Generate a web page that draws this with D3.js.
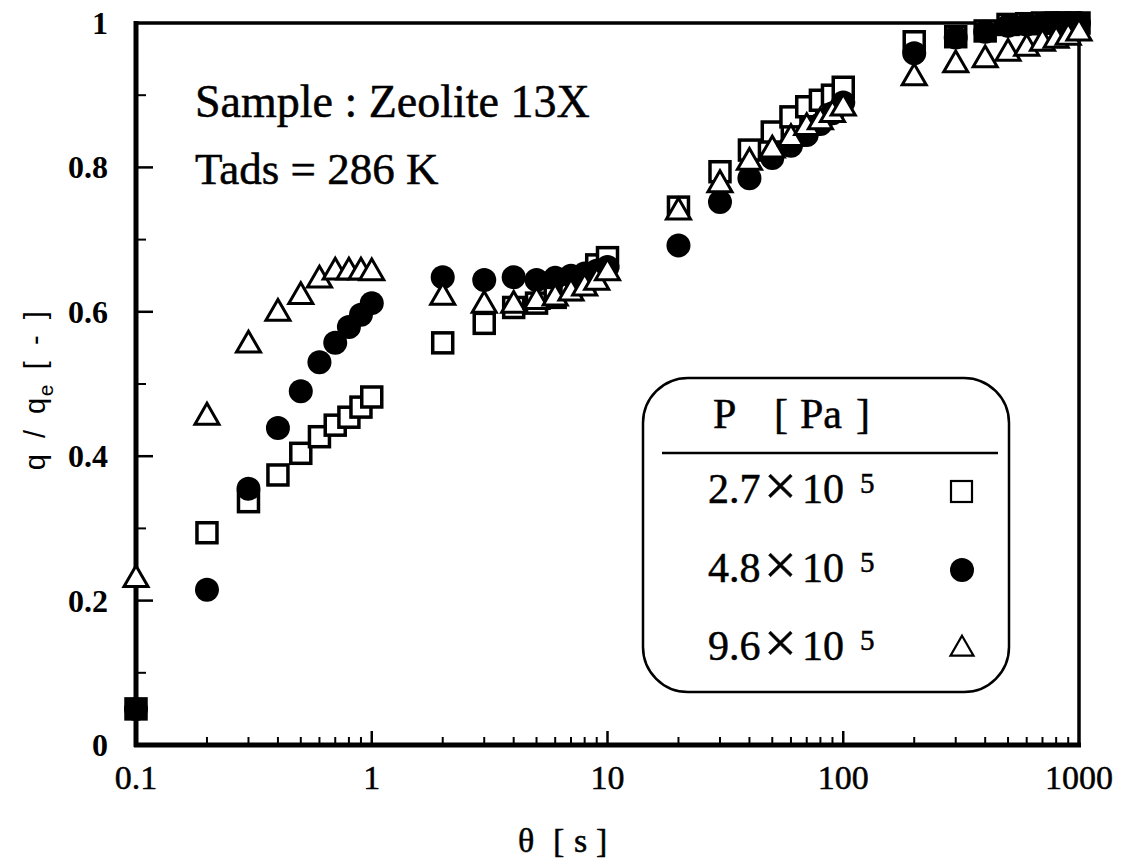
<!DOCTYPE html>
<html>
<head>
<meta charset="utf-8">
<script src="https://cdn.jsdelivr.net/npm/d3@7"></script>
<style>
  html, body { margin: 0; padding: 0; background: #fff; }
  svg { display: block; }
  text { fill: #000; }
  .heavy { stroke: #000; stroke-width: 0.5px; }
</style>
</head>
<body>
<svg id="chart" width="1127" height="865"></svg>
<script>
// Adsorption uptake of zeolite 13X at 286 K for three pressures
const times = [0.1, 0.2, 0.3, 0.4, 0.5, 0.6, 0.7, 0.8, 0.9, 1,
               2, 3, 4, 5, 6, 7, 8, 9, 10,
               20, 30, 40, 50, 60, 70, 80, 90, 100,
               200, 300, 400, 500, 600, 700, 800, 900, 1000];

const uptakeP27 = [0.050, 0.294, 0.337, 0.374, 0.404, 0.427, 0.443, 0.454, 0.468, 0.482,
                   0.557, 0.584, 0.606, 0.612, 0.620, 0.631, 0.643, 0.665, 0.675,
                   0.745, 0.794, 0.824, 0.849, 0.870, 0.884, 0.893, 0.900, 0.911,
                   0.974, 0.981, 0.989, 0.998, 0.999, 1.000, 1.000, 1.000, 1.000];

const uptakeP48 = [0.050, 0.215, 0.355, 0.439, 0.490, 0.530, 0.557, 0.579, 0.596, 0.612,
                   0.648, 0.644, 0.648, 0.644, 0.647, 0.650, 0.653, 0.657, 0.662,
                   0.692, 0.752, 0.785, 0.813, 0.830, 0.845, 0.860, 0.875, 0.890,
                   0.958, 0.980, 0.988, 0.996, 0.998, 0.999, 1.000, 1.000, 1.000];

const uptakeP96 = [0.229, 0.454, 0.554, 0.598, 0.621, 0.644, 0.655, 0.655, 0.655, 0.654,
                   0.620, 0.609, 0.609, 0.614, 0.619, 0.626, 0.633, 0.641, 0.654,
                   0.738, 0.776, 0.807, 0.824, 0.840, 0.855, 0.863, 0.873, 0.882,
                   0.924, 0.942, 0.949, 0.958, 0.965, 0.972, 0.976, 0.980, 0.986];

const pressureMantissa = ["2.7", "4.8", "9.6"];
const pressureExponent = ["5", "5", "5"];
const xTickValues = [0.1, 1, 10, 100, 1000];
const xTickLabels = ["0.1", "1", "10", "100", "1000"];
const yTickValues = [0, 0.2, 0.4, 0.6, 0.8, 1];
const yTickLabels = ["0", "0.2", "0.4", "0.6", "0.8", "1"];

const serif = "'Liberation Serif', 'Times New Roman', serif";
const sans = "'Liberation Sans', Arial, sans-serif";

const svg = d3.select("#chart");
const plotL = 136, plotR = 1079, plotT = 23, plotB = 745;

const x = d3.scaleLog().domain([0.1, 1000]).range([plotL, plotR]);
const y = d3.scaleLinear().domain([0, 1]).range([plotB, plotT]);

// minor ticks
const xMinor = [];
[0.1, 1, 10, 100].forEach(d => { for (let k = 2; k <= 9; k++) xMinor.push(d * k); });
const yMinor = d3.range(0.1, 1, 0.2);

const axisG = svg.append("g");

// x axis ticks (pointing inward)
axisG.selectAll("line.xmaj").data(xTickValues.slice(1, -1)).join("line")
  .attr("x1", d => x(d)).attr("x2", d => x(d))
  .attr("y1", plotB).attr("y2", plotB - 14)
  .attr("stroke", "#000").attr("stroke-width", 2.5);
axisG.selectAll("line.xmin").data(xMinor).join("line")
  .attr("x1", d => x(d)).attr("x2", d => x(d))
  .attr("y1", plotB).attr("y2", plotB - 8)
  .attr("stroke", "#000").attr("stroke-width", 2);

// y axis ticks
axisG.selectAll("line.ymaj").data(yTickValues.slice(1, -1)).join("line")
  .attr("x1", plotL).attr("x2", plotL + 17)
  .attr("y1", d => y(d)).attr("y2", d => y(d))
  .attr("stroke", "#000").attr("stroke-width", 2.5);
axisG.selectAll("line.ymin").data(yMinor).join("line")
  .attr("x1", plotL).attr("x2", plotL + 10)
  .attr("y1", d => y(d)).attr("y2", d => y(d))
  .attr("stroke", "#000").attr("stroke-width", 2);

// frame
svg.append("rect")
  .attr("x", plotL).attr("y", plotT)
  .attr("width", plotR - plotL).attr("height", plotB - plotT)
  .attr("fill", "none").attr("stroke", "#000").attr("stroke-width", 3.5);
svg.append("line").attr("x1", plotL).attr("x2", plotL).attr("y1", plotT - 2).attr("y2", plotB + 2)
  .attr("stroke", "#000").attr("stroke-width", 5);
svg.append("line").attr("x1", plotL - 2).attr("x2", plotR + 2).attr("y1", plotB).attr("y2", plotB)
  .attr("stroke", "#000").attr("stroke-width", 5);

// tick labels
svg.selectAll("text.xl").data(xTickValues).join("text")
  .attr("class", "heavy")
  .attr("x", d => x(d)).attr("y", 789)
  .attr("text-anchor", "middle")
  .style("font-family", serif).style("font-size", "34px")
  .text((d, i) => xTickLabels[i]);

svg.selectAll("text.yl").data(yTickValues).join("text")
  .attr("x", 108).attr("y", d => y(d) + 11)
  .attr("text-anchor", "end")
  .style("font-family", serif).style("font-size", "32px").style("font-weight", "bold")
  .text((d, i) => yTickLabels[i]);

// axis titles
const xt = svg.append("text").attr("class", "heavy").attr("y", 852)
  .style("font-family", serif).style("font-size", "34px");
xt.append("tspan").attr("x", 518).text("θ");
xt.append("tspan").attr("x", 553).text("[");
xt.append("tspan").attr("x", 574).text("s");
xt.append("tspan").attr("x", 596).text("]");

const yt = svg.append("text")
  .attr("transform", "translate(45,390) rotate(-90)")
  .attr("text-anchor", "middle")
  .style("font-family", sans).style("font-size", "29px")
  .style("letter-spacing", "1.5px").style("word-spacing", "5px");
yt.append("tspan").text("q / q");
yt.append("tspan").attr("dy", 8).style("font-size", "21px").text("e");
yt.append("tspan").attr("dy", -8).attr("dx", 14).text("[ - ]");

// annotation
svg.append("text").attr("class", "heavy").attr("x", 195).attr("y", 117)
  .style("font-family", serif).style("font-size", "46px")
  .text("Sample : Zeolite 13X");
svg.append("text").attr("class", "heavy").attr("x", 195).attr("y", 184)
  .style("font-family", serif).style("font-size", "45px")
  .text("Tads = 286 K");

// marker shapes
function trianglePath(w) {
  const h = w * 0.866;
  return `M0,${-2 * h / 3}L${w / 2},${h / 3}L${-w / 2},${h / 3}Z`;
}

const rows = times.map((t, i) => ({ t, a: uptakeP27[i], b: uptakeP48[i], c: uptakeP96[i] }));
const marks = svg.append("g");

marks.selectAll("rect.sq").data(rows).join("rect")
  .attr("x", d => x(d.t) - 10).attr("y", d => y(d.a) - 10)
  .attr("width", 20).attr("height", 20)
  .attr("fill", "#fff").attr("stroke", "#000").attr("stroke-width", 3.5);

marks.selectAll("circle.ci").data(rows).join("circle")
  .attr("cx", d => x(d.t)).attr("cy", d => y(d.b)).attr("r", 12)
  .attr("fill", "#000");

marks.selectAll("path.tr").data(rows).join("path")
  .attr("transform", d => `translate(${x(d.t)},${y(d.c)})`)
  .attr("d", trianglePath(24))
  .attr("fill", "#fff").attr("stroke", "#000").attr("stroke-width", 3)
  .attr("stroke-linejoin", "miter");

// legend
const lg = svg.append("g");
lg.append("rect").attr("x", 643).attr("y", 378).attr("width", 366).attr("height", 314)
  .attr("rx", 45).attr("ry", 45)
  .attr("fill", "#fff").attr("stroke", "#000").attr("stroke-width", 2.5);
const head = lg.append("text").attr("class", "heavy").attr("y", 428)
  .style("font-family", serif).style("font-size", "42px");
head.append("tspan").attr("x", 713).text("P");
head.append("tspan").attr("x", 774).text("[");
head.append("tspan").attr("x", 800).text("Pa");
head.append("tspan").attr("x", 856).text("]");
lg.append("line").attr("x1", 662).attr("x2", 998).attr("y1", 453).attr("y2", 453)
  .attr("stroke", "#000").attr("stroke-width", 2.5);

const rowY = [503, 582, 660];
pressureMantissa.forEach((m, i) => {
  const t = lg.append("text").attr("class", "heavy").attr("y", rowY[i])
    .style("font-family", serif).style("font-size", "42px");
  t.append("tspan").attr("x", 708).text(m);
  t.append("tspan").attr("x", 764).attr("dy", 2).style("font-size", "58px").text("×");
  t.append("tspan").attr("x", 802).attr("dy", -2).text("10");
  t.append("tspan").attr("x", 860).attr("dy", -10).style("font-size", "29px").text(pressureExponent[i]);
});
lg.append("rect").attr("x", 951).attr("y", 481).attr("width", 21).attr("height", 21)
  .attr("fill", "#fff").attr("stroke", "#000").attr("stroke-width", 2.2);
lg.append("circle").attr("cx", 962).attr("cy", 570).attr("r", 12).attr("fill", "#000");
lg.append("path").attr("transform", "translate(962,649)").attr("d", trianglePath(23))
  .attr("fill", "#fff").attr("stroke", "#000").attr("stroke-width", 2.2);
</script>
</body>
</html>
